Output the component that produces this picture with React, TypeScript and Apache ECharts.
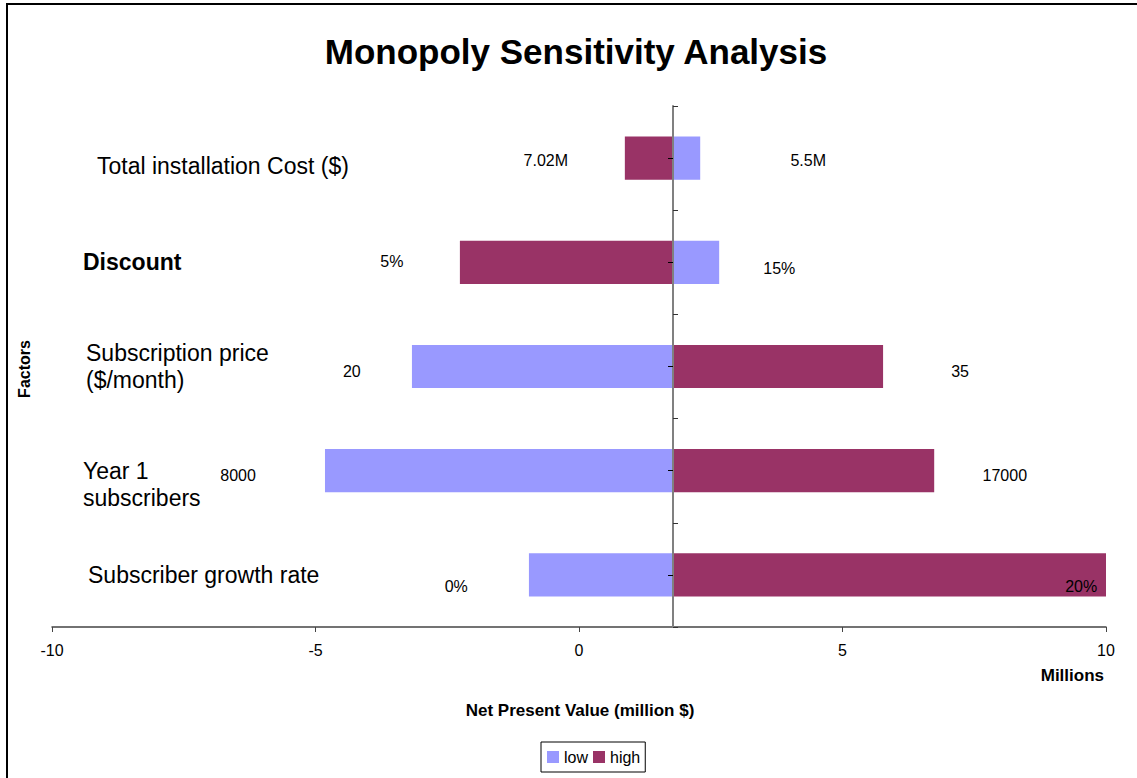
import React, { useEffect, useRef } from "react";
import * as echarts from "echarts";

const categories = [
  "Total installation Cost ($)",
  "Discount",
  "Subscription price\n($/month)",
  "Year 1\nsubscribers",
  "Subscriber growth rate",
];
const baseNPV = 1.784;
const lowValues = [2.3, 2.66, -3.17, -4.82, -0.95];
const highValues = [0.87, -2.26, 5.77, 6.74, 10.0];
const leftLabels = ["7.02M", "5%", "20", "8000", "0%"];
const rightLabels = ["5.5M", "15%", "35", "17000", "20%"];
const leftLabelAt = [-0.63, -3.55, -4.31, -6.47, -2.33];
const rightLabelAt = [4.35, 3.8, 7.23, 8.08, 9.53];
const xTicks = { min: -10, max: 10, interval: 5 };

// layout (pixels)
const leftLabelDy = [2, -1, 5, 5, 12];
const rightLabelDy = [2, 6, 5, 5, 12];
const catPadLeft = [14, 0, 3, 0, 5];
const catPadTop = [16, 0, 0, 0, 0];
const catBold = [false, true, false, false, false];
const catLeadBlank = [false, false, false, true, false];

const FONT = "'Liberation Sans', Arial, Helvetica, sans-serif";
const BLUE = "#9999FF";
const PURPLE = "#993366";
const W = 1137;
const H = 778;
const GRID = { left: 52, right: 31, top: 106, bottom: 151 };

export default function App() {
  const ref = useRef<HTMLDivElement>(null);
  useEffect(() => {
    document.body.style.margin = "0";
    const chart = echarts.init(ref.current!, null, { renderer: "svg" });
    const gridW = W - GRID.left - GRID.right;
    const basePx = ((baseNPV - xTicks.min) / (xTicks.max - xTicks.min)) * gridW;

    const barRender = (params: any, api: any) => {
      const v = api.value(0);
      const c = api.value(1);
      const p0 = api.coord([baseNPV, c]);
      const p1 = api.coord([v, c]);
      const band = api.size([0, 1])[1];
      const h = band * 0.415;
      return {
        type: "rect",
        shape: {
          x: Math.min(p0[0], p1[0]),
          y: p0[1] - h / 2,
          width: Math.abs(p1[0] - p0[0]),
          height: h,
        },
        style: { fill: api.visual("color") },
      };
    };

    const labelSeries = (texts: string[], at: number[], dy: number[]) => ({
      type: "custom",
      silent: true,
      z: 6,
      data: at.map((x, i) => [x, i]),
      encode: { x: 0, y: 1 },
      renderItem: (params: any, api: any) => {
        const i = params.dataIndex;
        const p = api.coord([api.value(0), api.value(1)]);
        return {
          type: "text",
          x: p[0],
          y: p[1] + dy[i],
          style: {
            text: texts[i],
            fill: "#000",
            font: `16px ${FONT}`,
            textAlign: "center",
            textVerticalAlign: "middle",
          },
        };
      },
    });

    const rich: any = {};
    categories.forEach((_, i) => {
      rich["c" + i] = {
        fontSize: 23,
        fontFamily: FONT,
        fontWeight: catBold[i] ? "bold" : "normal",
        color: "#000",
        lineHeight: 27,
        padding: [catPadTop[i], 0, 0, catPadLeft[i]],
      };
    });

    chart.setOption({
      animation: false,
      backgroundColor: "#fff",
      title: {
        text: "Monopoly Sensitivity Analysis",
        left: 576,
        top: 34,
        padding: 0,
        textAlign: "center",
        textStyle: { fontSize: 35, fontWeight: "bold", fontFamily: FONT, color: "#000" },
      },
      legend: {
        data: ["low", "high"],
        left: 541,
        top: 742,
        icon: "rect",
        itemWidth: 12,
        itemHeight: 12,
        itemGap: 5,
        padding: [7, 5, 7, 6],
        borderColor: "#000",
        borderWidth: 1,
        textStyle: { fontSize: 16, fontFamily: FONT, color: "#000" },
      },
      grid: { ...GRID },
      xAxis: {
        type: "value",
        min: xTicks.min,
        max: xTicks.max,
        interval: xTicks.interval,
        axisLine: { show: true, onZero: false, lineStyle: { color: "#444", width: 1.5 } },
        axisTick: { show: true, length: 5, lineStyle: { color: "#444" } },
        splitLine: { show: false },
        axisLabel: { fontSize: 16, fontFamily: FONT, color: "#000", margin: 15 },
      },
      yAxis: [
        {
          type: "category",
          data: categories,
          inverse: true,
          position: "left",
          offset: -basePx,
          z: 5,
          axisLine: { show: true, lineStyle: { color: "#808080", width: 2 } },
          axisTick: { show: true, inside: true, length: 5, lineStyle: { color: "#333" } },
          axisLabel: { show: false },
        },
        {
          type: "category",
          data: categories,
          inverse: true,
          position: "left",
          offset: -basePx,
          z: 5,
          axisLine: { show: false },
          axisTick: { show: true, alignWithLabel: true, inside: false, length: 5, lineStyle: { color: "#000" } },
          axisLabel: { show: false },
        },
        {
          type: "category",
          data: categories,
          inverse: true,
          position: "left",
          offset: 0,
          axisLine: { show: false },
          axisTick: { show: false },
          axisLabel: {
            show: true,
            inside: true,
            margin: 31,
            align: "left",
            formatter: (v: string, i: number) =>
              `{c${i}|${catLeadBlank[i] ? "\u00a0\n" : ""}${v}}`,
            rich,
          },
        },
      ],
      series: [
        {
          name: "low",
          type: "custom",
          itemStyle: { color: BLUE },
          data: lowValues.map((v, i) => [v, i]),
          encode: { x: 0, y: 1 },
          renderItem: barRender,
          z: 2,
        },
        {
          name: "high",
          type: "custom",
          itemStyle: { color: PURPLE },
          data: highValues.map((v, i) => [v, i]),
          encode: { x: 0, y: 1 },
          renderItem: barRender,
          z: 2,
        },
        labelSeries(leftLabels, leftLabelAt, leftLabelDy),
        labelSeries(rightLabels, rightLabelAt, rightLabelDy),
      ],
      graphic: [
        {
          type: "rect",
          shape: { x: 7, y: 4, width: W + 20, height: H + 20 },
          style: { fill: "none", stroke: "#000", lineWidth: 2 },
          silent: true,
        },
        {
          type: "text",
          x: 1104,
          y: 675,
          style: {
            text: "Millions",
            font: `bold 17px ${FONT}`,
            fill: "#000",
            textAlign: "right",
            textVerticalAlign: "middle",
          },
        },
        {
          type: "text",
          x: 580,
          y: 710,
          style: {
            text: "Net Present Value (million $)",
            font: `bold 17px ${FONT}`,
            fill: "#000",
            textAlign: "center",
            textVerticalAlign: "middle",
          },
        },
        {
          type: "text",
          x: 24,
          y: 369,
          rotation: Math.PI / 2,
          style: {
            text: "Factors",
            font: `bold 16px ${FONT}`,
            fill: "#000",
            textAlign: "center",
            textVerticalAlign: "middle",
          },
        },
      ],
    });
    return () => chart.dispose();
  }, []);
  return <div ref={ref} style={{ width: W, height: H, overflow: "hidden" }} />;
}
